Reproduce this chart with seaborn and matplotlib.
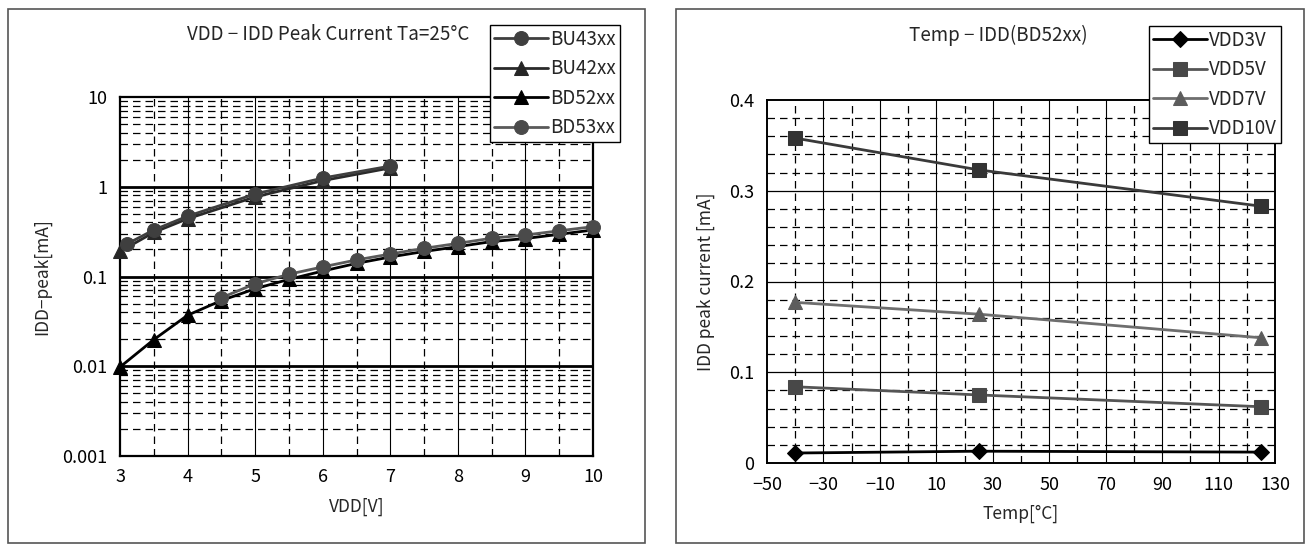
import numpy as np
import pandas as pd
import matplotlib
matplotlib.use("Agg")
import matplotlib.pyplot as plt
import seaborn as sns
from matplotlib.patches import Rectangle
from matplotlib.ticker import FixedLocator, FuncFormatter, NullFormatter

# ---------------- data: left chart (VDD - IDD peak, log) ----------------
bu43_vdd = [3.1, 3.5, 4, 5, 6, 7]
bu43_idd = [0.23, 0.33, 0.47, 0.83, 1.25, 1.70]
bu42_vdd = [3, 3.5, 4, 5, 6, 7]
bu42_idd = [0.19, 0.31, 0.44, 0.77, 1.17, 1.62]
bd52_vdd = [3, 3.5, 4, 4.5, 5, 5.5, 6, 6.5, 7, 7.5, 8, 8.5, 9, 9.5, 10]
bd52_idd = [0.0098, 0.0198, 0.037, 0.054, 0.073, 0.093, 0.115, 0.140, 0.165,
            0.190, 0.215, 0.245, 0.265, 0.295, 0.330]
bd53_vdd = [4.5, 5, 5.5, 6, 6.5, 7, 7.5, 8, 8.5, 9, 9.5, 10]
bd53_idd = [0.058, 0.083, 0.106, 0.128, 0.153, 0.178, 0.206, 0.234, 0.267,
            0.290, 0.323, 0.359]
left_xticks = [3, 4, 5, 6, 7, 8, 9, 10]
left_yticks = [0.001, 0.01, 0.1, 1, 10]
left_ytick_labels = ["0.001", "0.01", "0.1", "1", "10"]

# ---------------- data: right chart (Temp - IDD BD52xx) ----------------
temp = [-40, 25, 125]
vdd3v = [0.011, 0.013, 0.012]
vdd5v = [0.084, 0.075, 0.062]
vdd7v = [0.177, 0.164, 0.138]
vdd10v = [0.358, 0.323, 0.283]
right_xticks = [-50, -30, -10, 10, 30, 50, 70, 90, 110, 130]
right_yticks = [0, 0.1, 0.2, 0.3, 0.4]

# ---------------- style ----------------
sns.set_theme(style="white")
plt.rcParams["font.family"] = ["Noto Sans CJK JP", "DejaVu Sans"]
plt.rcParams["axes.unicode_minus"] = True

W, H = 1307, 546
fig = plt.figure(figsize=(W / 100, H / 100), dpi=100)

def fx(px):
    return px / W

def fy(py):
    return 1 - py / H

# panel borders
fig.patches.append(Rectangle((fx(8), fy(543)), fx(645) - fx(8), fy(9) - fy(543),
                             transform=fig.transFigure, fill=False,
                             edgecolor="#555555", linewidth=1.2))
fig.patches.append(Rectangle((fx(676), fy(543)), fx(1304) - fx(676), fy(9) - fy(543),
                             transform=fig.transFigure, fill=False,
                             edgecolor="#555555", linewidth=1.2))

DASH = (0, (6, 4))
TICK_FS = 13
LAB_FS = 12.5
TITLE_FS = 13.5
LEG_FS = 13.5

# ---------------- left axes ----------------
axL = fig.add_axes([fx(120), fy(456), fx(593) - fx(120), fy(97) - fy(456)])
axL.set_yscale("log")
axL.set_xlim(3, 10)
axL.set_ylim(0.001, 10)

# grid
for d in [0.001, 0.01, 0.1, 1]:
    for m in range(2, 10):
        axL.axhline(d * m, color="black", lw=0.9, ls=DASH, zorder=1)
for d in [0.01, 0.1, 1]:
    axL.axhline(d, color="black", lw=2.0, zorder=1.5)
for x in np.arange(3.5, 10, 1.0):
    axL.axvline(x, color="black", lw=0.9, ls=DASH, zorder=1)
for x in range(4, 10):
    axL.axvline(x, color="black", lw=0.8, zorder=1)

series_left = [
    (bu43_vdd, bu43_idd, "BU43xx", "o", "#3f3f3f", "#3f3f3f"),
    (bu42_vdd, bu42_idd, "BU42xx", "^", "#262626", "#2a2a2a"),
    (bd52_vdd, bd52_idd, "BD52xx", "^", "#000000", "#000000"),
    (bd53_vdd, bd53_idd, "BD53xx", "o", "#4a4a4a", "#5a5a5a"),
]
order_z = {"BU43xx": 4, "BU42xx": 3, "BD52xx": 3, "BD53xx": 4}
for xs, ys, lab, mk, mc, lc in series_left:
    df = pd.DataFrame({"x": xs, "y": ys})
    sns.lineplot(data=df, x="x", y="y", ax=axL, color=lc, lw=2.0, marker=mk,
                 markersize=10, markerfacecolor=mc, markeredgecolor=mc,
                 label=lab, zorder=order_z[lab], clip_on=False)

axL.yaxis.set_major_locator(FixedLocator(left_yticks))
axL.yaxis.set_major_formatter(FuncFormatter(
    lambda v, p: left_ytick_labels[left_yticks.index(v)] if v in left_yticks else ""))
axL.yaxis.set_minor_formatter(NullFormatter())
axL.yaxis.set_minor_locator(FixedLocator([]))
axL.set_xticks(left_xticks)
axL.tick_params(axis="both", length=0, labelsize=TICK_FS, colors="black", pad=9)
axL.set_xlabel("VDD[V]", fontsize=LAB_FS, labelpad=8)
axL.set_ylabel("IDD−peak[mA]", fontsize=LAB_FS, labelpad=8)
for s in axL.spines.values():
    s.set_color("black")
    s.set_linewidth(1.6)
fig.text(fx(328), fy(35), "VDD − IDD Peak Current Ta=25°C", ha="center",
         va="center", fontsize=TITLE_FS)
legL = axL.legend(loc="upper left", bbox_to_anchor=(fx(490), fy(25)),
                  bbox_transform=fig.transFigure, frameon=True, fancybox=False,
                  framealpha=1, edgecolor="black", fontsize=LEG_FS,
                  handlelength=2.9, handletextpad=0.1, labelspacing=0.45,
                  borderpad=0.2, borderaxespad=0)
legL.get_frame().set_linewidth(1.0)
legL.set_zorder(10)

# ---------------- right axes ----------------
axR = fig.add_axes([fx(767), fy(463), fx(1275) - fx(767), fy(100) - fy(463)])
axR.set_xlim(-50, 130)
axR.set_ylim(0, 0.4)

for y in np.arange(0.02, 0.4, 0.02):
    if abs(round(y * 10) - y * 10) > 1e-6:
        axR.axhline(y, color="black", lw=0.9, ls=DASH, zorder=1)
for y in [0.1, 0.2, 0.3]:
    axR.axhline(y, color="black", lw=0.9, zorder=1.5)
for x in range(-40, 130, 20):
    axR.axvline(x, color="black", lw=0.9, ls=DASH, zorder=1)
for x in range(-30, 130, 20):
    axR.axvline(x, color="black", lw=0.8, zorder=1)

series_right = [
    (vdd3v, "VDD3V", "D", "#000000", "#000000", 8),
    (vdd5v, "VDD5V", "s", "#484848", "#555555", 10),
    (vdd7v, "VDD7V", "^", "#5c5c5c", "#6e6e6e", 10),
    (vdd10v, "VDD10V", "s", "#333333", "#3a3a3a", 10),
]
for ys, lab, mk, mc, lc, ms in series_right:
    df = pd.DataFrame({"t": temp, "i": ys})
    sns.lineplot(data=df, x="t", y="i", ax=axR, color=lc, lw=2.0, marker=mk,
                 markersize=ms, markerfacecolor=mc, markeredgecolor=mc,
                 label=lab, zorder=4, clip_on=False)

axR.set_xticks(right_xticks)
axR.set_xticklabels([str(v).replace("-", "−") for v in right_xticks])
axR.set_yticks(right_yticks)
axR.set_yticklabels(["0", "0.1", "0.2", "0.3", "0.4"])
axR.tick_params(axis="both", length=0, labelsize=TICK_FS, colors="black", pad=9)
axR.set_xlabel("Temp[°C]", fontsize=LAB_FS, labelpad=8)
axR.set_ylabel("IDD peak current [mA]", fontsize=LAB_FS, labelpad=10)
for s in axR.spines.values():
    s.set_color("black")
    s.set_linewidth(1.4)
fig.text(fx(998), fy(35), "Temp − IDD(BD52xx)", ha="center", va="center",
         fontsize=TITLE_FS)
legR = axR.legend(loc="upper left", bbox_to_anchor=(fx(1149), fy(26)),
                  bbox_transform=fig.transFigure, frameon=True, fancybox=False,
                  framealpha=1, edgecolor="black", fontsize=LEG_FS,
                  handlelength=2.9, handletextpad=0.1, labelspacing=0.45,
                  borderpad=0.2, borderaxespad=0)
legR.get_frame().set_linewidth(1.0)
legR.set_zorder(10)

fig.savefig("out.png", dpi=100)
